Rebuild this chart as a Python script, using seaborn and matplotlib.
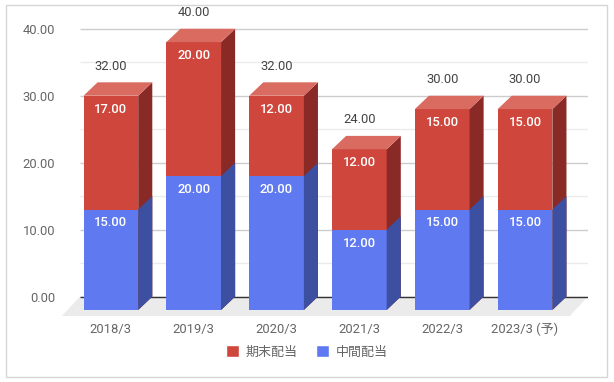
'''Dividend chart: 3D-look stacked bars (interim + year-end)'''
import matplotlib
matplotlib.use('Agg')
import matplotlib.pyplot as plt
from matplotlib.patches import Polygon, Patch, Rectangle
import seaborn as sns

categories = ['2018/3', '2019/3', '2020/3', '2021/3', '2022/3', '2023/3 (予)']
interim = [15, 20, 20, 12, 15, 15]      # 中間配当
year_end = [17, 20, 12, 12, 15, 15]     # 期末配当
totals = [a + b for a, b in zip(interim, year_end)]
y_ticks = [0, 10, 20, 30, 40]

sns.set_theme(style='white')
plt.rcParams['font.family'] = ['Roboto', 'Noto Sans CJK JP', 'DejaVu Sans']

RED = '#ce463c'
RED_TOP = '#da6b60'
RED_SIDE = '#8a2a26'
BLUE = '#5f79f0'
BLUE_SIDE = '#3c4fa0'
FS = 9.4

DX, DY = 0.17, 2.0   # depth offset (category units, value units)

fig = plt.figure(figsize=(6.14, 3.82), dpi=100)
fig.patches.append(Rectangle((6 / 614, 1 - 377 / 382), 601 / 614, 372 / 382,
                             transform=fig.transFigure, fill=False,
                             edgecolor='#d6d6d6', linewidth=1))
ax = fig.add_axes([62 / 614, 1 - 316 / 382, 526 / 614, 308 / 382])

# floor and grid in the back plane
x_back0, x_back1 = -0.374, 5.76
ax.add_patch(Polygon([(x_back0, DY), (x_back1, DY), (5.54, -0.9), (-0.59, -0.9)],
                     closed=True, facecolor='#ebebeb', edgecolor='none', zorder=0))
for v in range(5, 45, 10):
    ax.hlines(v + DY, x_back0, x_back1, color='#ebebeb', linewidth=1, zorder=0.5)
for v in y_ticks[1:]:
    ax.hlines(v + DY, x_back0, x_back1, color='#cccccc', linewidth=1, zorder=0.6)
ax.hlines(DY, x_back0, x_back1, color='#333333', linewidth=1, zorder=0.7)

sns.barplot(x=categories, y=totals, color=RED, saturation=1, width=0.66,
            linewidth=0, ax=ax, zorder=2)
sns.barplot(x=categories, y=interim, color=BLUE, saturation=1, width=0.66,
            linewidth=0, ax=ax, zorder=3)

n = len(categories)
red_bars = ax.patches[1:1 + n]
blue_bars = ax.patches[1 + n:1 + 2 * n]

for i, (rb, bb) in enumerate(zip(red_bars, blue_bars)):
    xl = rb.get_x()
    xr = xl + rb.get_width()
    top = rb.get_height()
    mid = bb.get_height()
    ax.add_patch(Polygon([(xr, 0), (xr + DX, DY), (xr + DX, top + DY), (xr, top)],
                         facecolor=RED_SIDE, edgecolor='none', zorder=2))
    ax.add_patch(Polygon([(xr, 0), (xr + DX, DY), (xr + DX, mid + DY), (xr, mid)],
                         facecolor=BLUE_SIDE, edgecolor='none', zorder=3))
    ax.add_patch(Polygon([(xl, top), (xl + DX, top + DY), (xr + DX, top + DY), (xr, top)],
                         facecolor=RED_TOP, edgecolor='none', zorder=2))
    cx = xl + rb.get_width() / 2
    ax.text(cx, top - 2.0, f'{year_end[i]:.2f}', ha='center', va='center',
            color='white', fontsize=FS, fontweight='medium', zorder=5)
    ax.text(cx, mid - 2.0, f'{interim[i]:.2f}', ha='center', va='center',
            color='white', fontsize=FS, fontweight='medium', zorder=5)
    ax.text(cx, top + DY + 2.4, f'{totals[i]:.2f}', ha='center', va='center',
            color='#444444', fontsize=FS, zorder=5)

for p in ax.patches:
    p.set_clip_on(False)

ax.set_xlim(-0.59, 5.76)
ax.set_ylim(-0.9, 45.1)
ax.set_yticks([v + DY for v in y_ticks])
ax.set_yticklabels([f'{v:.2f}' for v in y_ticks])
ax.tick_params(axis='both', length=0, labelsize=FS, labelcolor='#666666')
ax.tick_params(axis='y', pad=5)
ax.tick_params(axis='x', pad=5)
ax.set_xlabel('')
ax.set_ylabel('')
sns.despine(ax=ax, left=True, bottom=True)

handles = [Patch(facecolor=RED, label='期末配当'), Patch(facecolor=BLUE, label='中間配当')]
fig.legend(handles=handles, loc='center', bbox_to_anchor=(0.5, 1 - 352 / 382),
           ncol=2, frameon=False, fontsize=FS, labelcolor='#666666',
           handlelength=1.0, handleheight=1.0, handletextpad=0.5,
           columnspacing=1.4)

fig.savefig('out.png', dpi=100)
